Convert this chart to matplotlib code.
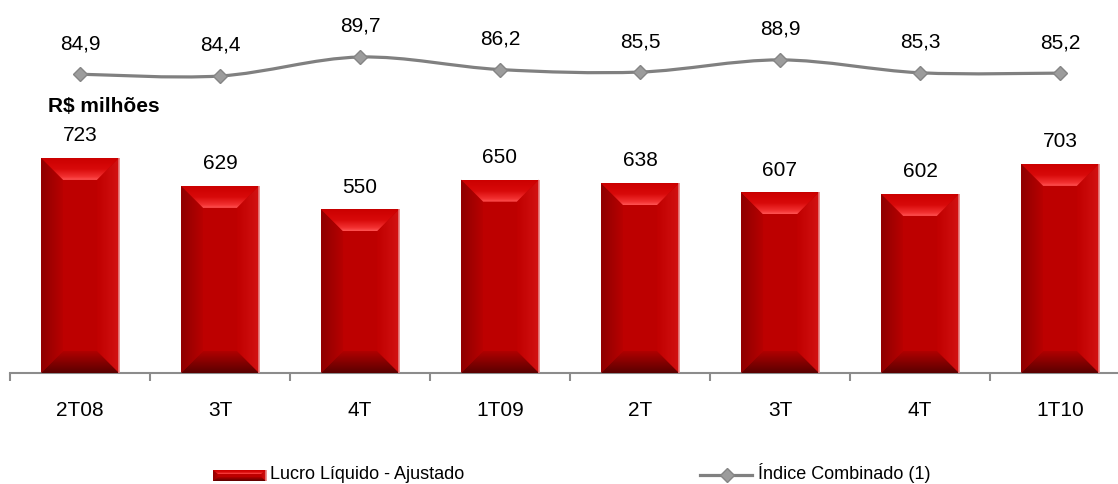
import numpy as np
import matplotlib.pyplot as plt
from matplotlib.patches import Polygon
from matplotlib.path import Path
from matplotlib.patches import PathPatch
from matplotlib.colors import LinearSegmentedColormap
from matplotlib.lines import Line2D

plt.rcParams['font.family'] = ['Liberation Sans', 'DejaVu Sans']

periodos = ['2T08', '3T', '4T', '1T09', '2T', '3T', '4T', '1T10']
lucro = [723, 629, 550, 650, 638, 607, 602, 703]
indice = [84.9, 84.4, 89.7, 86.2, 85.5, 88.9, 85.3, 85.2]

W, H = 1118, 484
fig = plt.figure(figsize=(W / 100, H / 100), dpi=100)

# bar axes: baseline at y=373 px, 140 px per category
base_px = 373
ax = fig.add_axes([10 / W, (H - base_px) / H, 1120 / W, 245 / H])
px_per_unit = 0.2975
ax.set_xlim(-0.5, 7.5)
ax.set_ylim(0, 245 / px_per_unit)
ax.patch.set_alpha(0)
for s in ['top', 'right', 'left']:
    ax.spines[s].set_visible(False)
ax.spines['bottom'].set_color('#8c8c8c')
ax.spines['bottom'].set_linewidth(1.5)
ax.set_yticks([])
ax.set_xticks(range(len(periodos)))
ax.set_xticklabels(periodos, fontsize=15)
ax.tick_params(axis='x', which='major', length=0, pad=20)
ax.set_xticks(np.arange(-0.5, 8, 1), minor=True)
ax.tick_params(axis='x', which='minor', length=6, width=1.5, color='#8c8c8c', direction='out')

bw = 0.555
bev_x = 22 / 140          # bevel in data units (x)
bev_y = 22 / px_per_unit  # bevel in data units (y)


def grad_cmap(c1, c2):
    return LinearSegmentedColormap.from_list('g', [c1, c2])


def shade(axis, poly, cmap, extent, horizontal):
    n = 64
    g = np.linspace(0, 1, n)
    img = g[np.newaxis, :] if horizontal else g[:, np.newaxis]
    im = axis.imshow(img, cmap=cmap, extent=extent, origin='lower',
                     aspect='auto', interpolation='bilinear', zorder=3)
    p = Polygon(poly, closed=True, facecolor='none', edgecolor='none')
    axis.add_patch(p)
    im.set_clip_path(p)


top_cmap = LinearSegmentedColormap.from_list(
    't', [(0, '#ff5252'), (0.15, '#f23030'), (0.5, '#d80a0a'), (1, '#cc0000')])


def bevel_bar(axis, x0, x1, y0, y1, bx, by):
    axis.add_patch(Polygon([(x0, y0), (x1, y0), (x1, y1), (x0, y1)],
                           closed=True, facecolor='#bd0000', edgecolor='none', zorder=2))
    # left side
    shade(axis, [(x0, y0), (x0 + bx, y0 + by), (x0 + bx, y1 - by), (x0, y1)],
          grad_cmap('#8e0000', '#b80000'), [x0, x0 + bx, y0, y1], True)
    # right side
    shade(axis, [(x1, y0), (x1 - bx, y0 + by), (x1 - bx, y1 - by), (x1, y1)],
          grad_cmap('#c00000', '#d21212'), [x1 - bx, x1, y0, y1], True)
    # bottom
    shade(axis, [(x0, y0), (x1, y0), (x1 - bx, y0 + by), (x0 + bx, y0 + by)],
          grad_cmap('#5a0000', '#b00000'), [x0, x1, y0, y0 + by], False)
    # top
    shade(axis, [(x0, y1), (x1, y1), (x1 - bx, y1 - by), (x0 + bx, y1 - by)],
          top_cmap, [x0, x1, y1 - by, y1], False)
    # light rim on the right edge
    axis.plot([x1, x1], [y0, y1], color='#e88080', lw=1.2, zorder=4, solid_capstyle='butt')


bars = ax.bar(range(len(lucro)), lucro, width=bw, color='none', zorder=1)
for b, v in zip(bars, lucro):
    x0 = b.get_x()
    x1 = x0 + b.get_width()
    bevel_bar(ax, x0, x1, 0, v, bev_x, bev_y)
    ax.annotate(str(v), (b.get_x() + b.get_width() / 2, v), xytext=(0, 16),
                textcoords='offset points', ha='center', va='center', fontsize=15)

# line axes spanning the whole figure height
lx = fig.add_axes([10 / W, 0, 1120 / W, 1])
lx.set_xlim(-0.5, 7.5)
lpx = 3.58
ymin = 84.4 - (H - 76) / lpx
lx.set_ylim(ymin, ymin + H / lpx)
lx.axis('off')
lx.patch.set_alpha(0)

xs = np.arange(len(indice), dtype=float)
ys = np.array(indice)
# smooth curve through the points (Catmull-Rom as cubic Bezier segments)
verts = [(xs[0], ys[0])]
codes = [Path.MOVETO]
for i in range(len(xs) - 1):
    p0 = np.array([xs[max(i - 1, 0)], ys[max(i - 1, 0)]])
    p1 = np.array([xs[i], ys[i]])
    p2 = np.array([xs[i + 1], ys[i + 1]])
    p3 = np.array([xs[min(i + 2, len(xs) - 1)], ys[min(i + 2, len(xs) - 1)]])
    c1 = p1 + (p2 - p0) / 6
    c2 = p2 - (p3 - p1) / 6
    verts += [tuple(c1), tuple(c2), tuple(p2)]
    codes += [Path.CURVE4] * 3
lx.add_patch(PathPatch(Path(verts, codes), facecolor='none', edgecolor='#808080', lw=2.3, zorder=2))
lx.plot(xs, ys, linestyle='none', marker='D', ms=7.6, mfc='#9c9c9c', mec='#858585', mew=1, zorder=3)
for x, v in zip(xs, ys):
    lx.annotate(f'{v:.1f}'.replace('.', ','), (x, v), xytext=(0, 22),
                textcoords='offset points', ha='center', va='center', fontsize=15)

fig.text(48 / W, 1 - 106 / H, 'R$ milhões', fontsize=15, fontweight='bold', va='center', ha='left')

# legend drawn by hand
leg = fig.add_axes([0, 0, 1, 1])
leg.set_xlim(0, W)
leg.set_ylim(H, 0)
leg.axis('off')
leg.patch.set_alpha(0)
bevel_bar(leg, 213, 266, 481, 470, 5, -4)
leg.text(270, 479, 'Lucro Líquido - Ajustado', fontsize=13, va='baseline', ha='left')
leg.add_line(Line2D([700, 752], [475, 475], color='#808080', lw=2.3))
leg.plot([727], [475], marker='D', ms=7, mfc='#9c9c9c', mec='#858585', mew=1)
leg.text(758, 479, 'Índice Combinado (1)', fontsize=13, va='baseline', ha='left')

fig.savefig('out.png', dpi=100)
